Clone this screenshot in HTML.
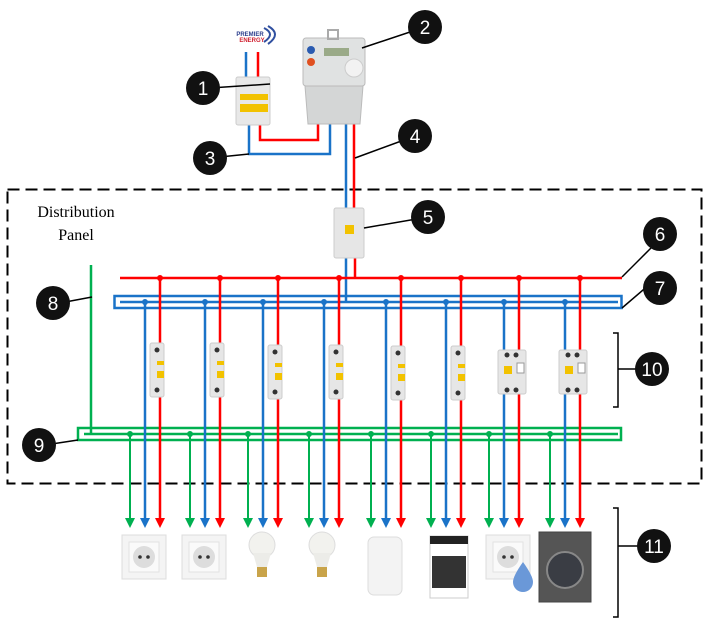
<!DOCTYPE html>
<html><head><meta charset="utf-8"><style>body{margin:0;background:#fff}svg{display:block}</style></head><body>
<svg width="709" height="628" viewBox="0 0 709 628" xmlns="http://www.w3.org/2000/svg" xmlns:xlink="http://www.w3.org/1999/xlink" font-family="Liberation Sans, sans-serif">
<defs>
<g id="mcb"><rect x="-7" y="0" width="14" height="54" rx="2" fill="#e6e6e6" stroke="#ccc"/><circle cx="0" cy="7" r="2.5" fill="#333"/><circle cx="0" cy="47" r="2.5" fill="#333"/><rect x="0" y="18" width="7" height="4" fill="#f2c200"/><rect x="0" y="28" width="7" height="7" fill="#f2c200"/></g>
<g id="rcbo"><rect x="-14" y="0" width="28" height="44" rx="2" fill="#e6e6e6" stroke="#ccc"/><circle cx="-5" cy="5" r="2.5" fill="#333"/><circle cx="4" cy="5" r="2.5" fill="#333"/><circle cx="-5" cy="40" r="2.5" fill="#333"/><circle cx="4" cy="40" r="2.5" fill="#333"/><rect x="-8" y="16" width="8" height="8" fill="#f2c200"/><rect x="5" y="13" width="7" height="10" fill="#fff" stroke="#999"/></g>
<g id="sock"><rect x="0" y="0" width="44" height="44" fill="#f4f4f4" stroke="#ddd"/><rect x="7" y="7" width="30" height="30" fill="#fafafa" stroke="#e2e2e2"/><circle cx="22" cy="22" r="11" fill="#ddd"/><circle cx="18" cy="22" r="1.8" fill="#333"/><circle cx="26" cy="22" r="1.8" fill="#333"/></g>
<g id="bulb"><ellipse cx="0" cy="12" rx="13" ry="13" fill="#f2f2ee" stroke="#ddd"/><path d="M-9,20 L-5,34 L5,34 L9,20z" fill="#ecece8"/><rect x="-5" y="34" width="10" height="10" fill="#c9a44a"/></g>
<g id="br">
<line x1="0" y1="434" x2="0" y2="519" stroke="#00b050" stroke-width="2"/>
<line x1="15" y1="302" x2="15" y2="519" stroke="#1a73c8" stroke-width="2.5"/>
<line x1="30" y1="278" x2="30" y2="519" stroke="#f00" stroke-width="2.5"/>
<path d="M-5,518 L5,518 L0,528z" fill="#00b050"/>
<path d="M10,518 L20,518 L15,528z" fill="#1a73c8"/>
<path d="M25,518 L35,518 L30,528z" fill="#f00"/>
<circle cx="30" cy="278" r="3" fill="#f00"/><circle cx="15" cy="302" r="3" fill="#1a73c8"/><circle cx="0" cy="434" r="3" fill="#00b050"/>
</g>
</defs>
<rect x="7.5" y="189.5" width="694" height="294" fill="none" stroke="#000" stroke-width="2" stroke-dasharray="12,6"/>
<text x="76" y="217" font-family="Liberation Serif, serif" font-size="16" text-anchor="middle">Distribution</text>
<text x="76" y="240" font-family="Liberation Serif, serif" font-size="16" text-anchor="middle">Panel</text>
<text x="250" y="36" font-size="6" fill="#2a3c8c" font-weight="bold" text-anchor="middle">PREMIER</text>
<text x="252" y="42" font-size="6" fill="#d02030" font-weight="bold" text-anchor="middle">ENERGY</text>
<path d="M264,28 q12,6 0,14 M268,26 q14,8 0,18" stroke="#3050a0" fill="none" stroke-width="2"/>
<g stroke-width="2.5" fill="none">
<path d="M246,52 V80" stroke="#1a73c8"/><path d="M258,52 V80" stroke="#f00"/>
<path d="M260,120 V140 H318 V120" stroke="#f00"/>
<path d="M249,120 V154 H330 V120" stroke="#1a73c8"/>
<path d="M346,120 V214" stroke="#1a73c8"/><path d="M354,120 V214" stroke="#f00"/>
<path d="M346,255 V302" stroke="#1a73c8"/><path d="M355,255 V278" stroke="#f00"/>
</g>
<rect x="236" y="77" width="34" height="48" rx="2" fill="#e8e8e8" stroke="#ccc"/>
<rect x="240" y="94" width="28" height="6" fill="#f2c200"/><rect x="240" y="104" width="28" height="8" fill="#f2c200"/>
<rect x="303" y="38" width="62" height="48" rx="3" fill="#e0e2e2" stroke="#bbb"/>
<rect x="324" y="48" width="25" height="8" fill="#9aaa88"/>
<circle cx="311" cy="50" r="4" fill="#2a5bb0"/><circle cx="311" cy="62" r="4" fill="#e05020"/>
<circle cx="354" cy="68" r="9" fill="#f2f2f2" stroke="#ccc"/>
<path d="M305,86 H363 L360,124 H308 Z" fill="#d4d6d6" stroke="#bbb"/>
<rect x="328" y="30" width="10" height="9" fill="none" stroke="#aaa" stroke-width="2"/>
<rect x="334" y="208" width="30" height="50" rx="2" fill="#e6e6e6" stroke="#ccc"/>
<rect x="345" y="225" width="9" height="9" fill="#f2c200"/>
<g fill="none" stroke-width="2.5">
<path d="M120,278 H622" stroke="#f00"/>
<rect x="114.5" y="296" width="507" height="12" stroke="#1a73c8"/>
<path d="M120,302 H618" stroke="#1a73c8"/>
<path d="M91,265 V434" stroke="#00b050"/>
<rect x="78" y="428" width="543" height="12" stroke="#00b050"/>
<path d="M84,434 H618" stroke="#00b050"/>
</g>
<use href="#br" xlink:href="#br" x="130" y="0"/>
<use href="#br" xlink:href="#br" x="190" y="0"/>
<use href="#br" xlink:href="#br" x="248" y="0"/>
<use href="#br" xlink:href="#br" x="309" y="0"/>
<use href="#br" xlink:href="#br" x="371" y="0"/>
<use href="#br" xlink:href="#br" x="431" y="0"/>
<use href="#br" xlink:href="#br" x="489" y="0"/>
<use href="#br" xlink:href="#br" x="550" y="0"/>
<use href="#mcb" xlink:href="#mcb" x="157" y="343"/>
<use href="#mcb" xlink:href="#mcb" x="217" y="343"/>
<use href="#mcb" xlink:href="#mcb" x="275" y="345"/>
<use href="#mcb" xlink:href="#mcb" x="336" y="345"/>
<use href="#mcb" xlink:href="#mcb" x="398" y="346"/>
<use href="#mcb" xlink:href="#mcb" x="458" y="346"/>
<use href="#rcbo" xlink:href="#rcbo" x="512" y="350"/>
<use href="#rcbo" xlink:href="#rcbo" x="573" y="350"/>
<g fill="#000" stroke="#000" stroke-width="1.5">
<line x1="622" y1="277" x2="652" y2="247"/><line x1="622" y1="308" x2="650" y2="284"/>
<line x1="92" y1="297" x2="60" y2="303"/><line x1="78" y1="440" x2="45" y2="445"/>
<line x1="270" y1="84" x2="210" y2="88"/><line x1="362" y1="48" x2="425" y2="27"/>
<line x1="249" y1="154" x2="210" y2="158"/><line x1="355" y1="158" x2="415" y2="136"/>
<line x1="364" y1="228" x2="428" y2="217"/>
<path d="M613,333 H618 V407 H613 M618,369 H640" fill="none"/>
<path d="M613,508 H618 V617 H613 M618,546 H640" fill="none"/>
</g>
<g fill="#111">
<circle cx="203" cy="88" r="17"/><circle cx="425" cy="27" r="17"/><circle cx="210" cy="158" r="17"/><circle cx="415" cy="136" r="17"/><circle cx="428" cy="217" r="17"/><circle cx="660" cy="234" r="17"/><circle cx="660" cy="288" r="17"/><circle cx="53" cy="303" r="17"/><circle cx="39" cy="445" r="17"/><circle cx="652" cy="369" r="17"/><circle cx="654" cy="546" r="17"/>
</g>
<g fill="#fff" font-size="19" text-anchor="middle">
<text x="203" y="95">1</text><text x="425" y="34">2</text><text x="210" y="165">3</text><text x="415" y="143">4</text><text x="428" y="224">5</text><text x="660" y="241">6</text><text x="660" y="295">7</text><text x="53" y="310">8</text><text x="39" y="452">9</text><text x="652" y="376">10</text><text x="654" y="553">11</text>
</g>
<use href="#sock" xlink:href="#sock" x="122" y="535"/>
<use href="#sock" xlink:href="#sock" x="182" y="535"/>
<use href="#bulb" xlink:href="#bulb" x="262" y="533"/>
<use href="#bulb" xlink:href="#bulb" x="322" y="533"/>
<rect x="368" y="537" width="34" height="58" rx="6" fill="#f3f3f3" stroke="#ddd"/>
<rect x="430" y="536" width="38" height="62" fill="#fff" stroke="#ccc"/><rect x="430" y="536" width="38" height="8" fill="#222"/><rect x="432" y="556" width="34" height="32" fill="#333"/>
<use href="#sock" xlink:href="#sock" x="486" y="535"/>
<path d="M523,562 q-10,14 -10,20 a10,10 0 0 0 20,0 q0,-6 -10,-20z" fill="#6a98d8"/>
<rect x="539" y="532" width="52" height="70" fill="#555" stroke="#444"/><circle cx="565" cy="570" r="18" fill="#3a3d44" stroke="#888" stroke-width="2"/>
</svg>
</body></html>
